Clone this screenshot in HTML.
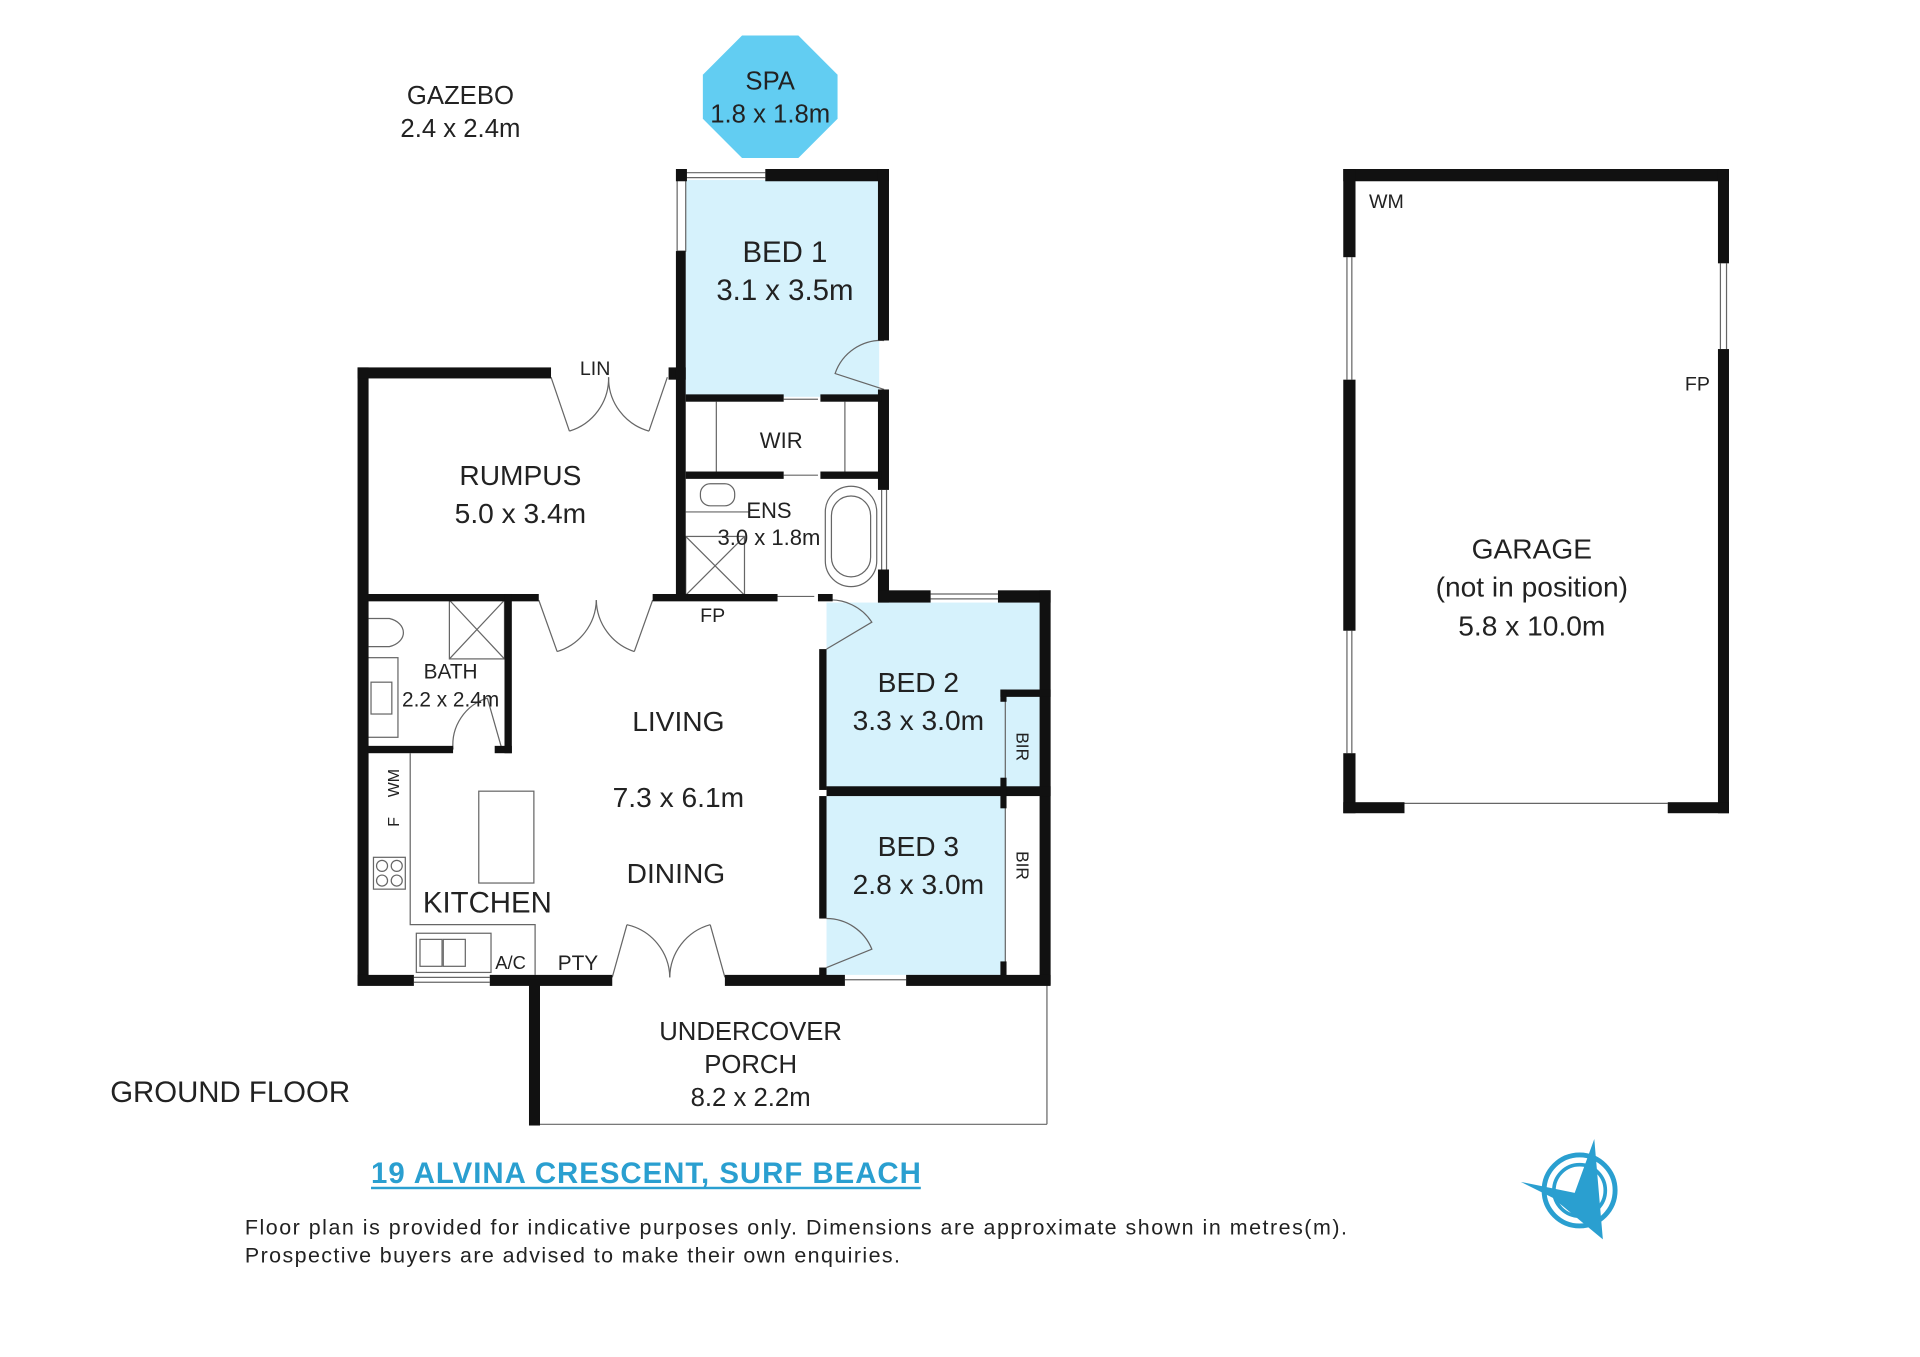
<!DOCTYPE html>
<html><head><meta charset="utf-8"><style>
html,body{margin:0;padding:0;background:#fff;}
svg{display:block;}
text{font-family:"Liberation Sans","DejaVu Sans",sans-serif;fill:#222;}
</style></head><body>
<svg width="1920" height="1357" viewBox="0 0 1568 1108" preserveAspectRatio="none" xmlns="http://www.w3.org/2000/svg">
<rect width="1568" height="1108" fill="#fff"/>
<rect x="560" y="147" width="158" height="177" fill="#d6f2fc"/>
<rect x="675" y="492" width="176" height="152" fill="#d6f2fc"/>
<rect x="675" y="650" width="146" height="146" fill="#d6f2fc"/>
<polygon points="606,29 652,29 684,61 684,97 652,129 606,129 574,97 574,61" fill="#62cdf2"/>
<g stroke="#666" stroke-width="1" fill="none">
<rect x="553" y="140" width="7" height="65"/>
<line x1="560" y1="141" x2="625" y2="141"/><line x1="560" y1="145" x2="625" y2="145"/>
<line x1="720" y1="400" x2="720" y2="465"/><line x1="724" y1="400" x2="724" y2="465"/>
<line x1="760" y1="485" x2="815" y2="485"/><line x1="760" y1="489" x2="815" y2="489"/>
<line x1="338" y1="798" x2="400" y2="798"/><line x1="338" y1="802" x2="400" y2="802"/>
<line x1="294" y1="500" x2="294" y2="530"/><line x1="298" y1="500" x2="298" y2="530"/>
<line x1="441" y1="918" x2="855" y2="918"/><line x1="855" y1="804" x2="855" y2="918"/>
<line x1="690" y1="800" x2="740" y2="800"/>
<line x1="640" y1="326" x2="668" y2="326"/><line x1="640" y1="388" x2="668" y2="388"/>
<line x1="635" y1="487" x2="665" y2="487"/>
<line x1="585" y1="328" x2="585" y2="388"/><line x1="690" y1="328" x2="690" y2="388"/>
<line x1="821" y1="568" x2="821" y2="642"/><line x1="821" y1="650" x2="821" y2="796"/>
<line x1="1100" y1="210" x2="1100" y2="310"/><line x1="1104" y1="210" x2="1104" y2="310"/>
<line x1="1100" y1="515" x2="1100" y2="615"/><line x1="1104" y1="515" x2="1104" y2="615"/>
<line x1="1405" y1="215" x2="1405" y2="285"/><line x1="1410" y1="215" x2="1410" y2="285"/>
<line x1="1147" y1="656" x2="1362" y2="656"/>
<path d="M450,308 L465,352 M465,352 A45,45 0 0 0 497,308"/>
<path d="M545,308 L530,352 M530,352 A45,45 0 0 1 497,308"/>
<path d="M440,490 L455,532 M455,532 A45,45 0 0 0 487,490"/>
<path d="M533,490 L518,532 M518,532 A45,45 0 0 1 487,490"/>
<path d="M500,798 L512,755 M512,755 A45,45 0 0 1 547,798"/>
<path d="M592,798 L580,755 M580,755 A45,45 0 0 0 547,798"/>
<path d="M722,278 A40,40 0 0 0 682,305 L722,318"/>
<path d="M675,490 A40,40 0 0 1 712,508 L675,530"/>
<path d="M675,750 A40,40 0 0 1 712,775 L675,790"/>
<path d="M410,612 L398,570 M370,612 A40,40 0 0 1 398,570"/>
<rect x="367" y="490" width="45" height="48"/><path d="M367,490 L412,538 M412,490 L367,538"/>
<rect x="560" y="438" width="48" height="48"/><path d="M560,438 L608,486 M608,438 L560,486"/>
<rect x="674" y="397" width="42" height="82" rx="21"/><rect x="679" y="405" width="32" height="66" rx="16"/>
<rect x="572" y="395" width="28" height="18" rx="8"/>
<path d="M560,418 L612,418"/>
<path d="M301,505 L318,505 A16,12 0 0 1 318,528 L301,528"/>
<rect x="300" y="537" width="25" height="65"/><rect x="303" y="557" width="17" height="26"/>
<path d="M335,615 L335,755 L437,755 L437,796"/>
<rect x="391" y="646" width="45" height="75"/>
<rect x="305" y="700" width="26" height="26"/>
<circle cx="312" cy="707" r="4.5"/><circle cx="324" cy="707" r="4.5"/><circle cx="312" cy="719" r="4.5"/><circle cx="324" cy="719" r="4.5"/>
<rect x="340" y="762" width="61" height="32"/><rect x="343" y="767" width="18" height="22"/><rect x="362" y="767" width="18" height="22"/>
</g>
<g fill="#111">
<rect x="292" y="300" width="9" height="504"/>
<rect x="292" y="300" width="158" height="9"/>
<rect x="546" y="300" width="14" height="10"/>
<rect x="552" y="205" width="8" height="285"/>
<rect x="552" y="138" width="9" height="10"/>
<rect x="625" y="138" width="101" height="10"/>
<rect x="717" y="138" width="9" height="140"/>
<rect x="717" y="318" width="9" height="82"/>
<rect x="717" y="465" width="9" height="27"/>
<rect x="560" y="322" width="80" height="6"/><rect x="670" y="322" width="50" height="6"/>
<rect x="560" y="385" width="80" height="6"/><rect x="670" y="385" width="50" height="6"/>
<rect x="533" y="485" width="102" height="6"/>
<rect x="668" y="485" width="12" height="6"/>
<rect x="717" y="482" width="43" height="10"/>
<rect x="815" y="482" width="43" height="10"/>
<rect x="849" y="482" width="9" height="322"/>
<rect x="669" y="530" width="6" height="115"/>
<rect x="669" y="650" width="6" height="100"/>
<rect x="669" y="790" width="6" height="10"/>
<rect x="675" y="642" width="183" height="8"/>
<rect x="817" y="563" width="41" height="6"/>
<rect x="817" y="563" width="5" height="10"/><rect x="817" y="635" width="5" height="25"/><rect x="817" y="785" width="5" height="15"/>
<rect x="292" y="796" width="46" height="9"/>
<rect x="400" y="796" width="100" height="9"/>
<rect x="592" y="796" width="98" height="9"/>
<rect x="740" y="796" width="118" height="9"/>
<rect x="432" y="800" width="9" height="119"/>
<rect x="300" y="485" width="140" height="6"/>
<rect x="412" y="485" width="6" height="130"/>
<rect x="300" y="609" width="70" height="6"/>
<rect x="404" y="609" width="14" height="6"/>
<rect x="1097" y="138" width="315" height="10"/>
<rect x="1097" y="138" width="10" height="72"/>
<rect x="1097" y="310" width="10" height="205"/>
<rect x="1097" y="615" width="10" height="49"/>
<rect x="1403" y="138" width="9" height="77"/>
<rect x="1403" y="285" width="9" height="379"/>
<rect x="1097" y="655" width="50" height="9"/>
<rect x="1362" y="655" width="50" height="9"/>
</g>
<g text-anchor="middle" font-size="21">
<text x="376" y="85">GAZEBO</text><text x="376" y="112">2.4 x 2.4m</text>
<text x="629" y="73">SPA</text><text x="629" y="100">1.8 x 1.8m</text>
<text x="641" y="214" font-size="24">BED 1</text><text x="641" y="245" font-size="24">3.1 x 3.5m</text>
<text x="425" y="396" font-size="23">RUMPUS</text><text x="425" y="427" font-size="23">5.0 x 3.4m</text>
<text x="638" y="366" font-size="18">WIR</text>
<text x="628" y="423" font-size="18">ENS</text><text x="628" y="445" font-size="18">3.0 x 1.8m</text>
<text x="486" y="306" font-size="16">LIN</text>
<text x="582" y="508" font-size="16">FP</text>
<text x="368" y="554" font-size="17">BATH</text><text x="368" y="577" font-size="17">2.2 x 2.4m</text>
<text x="554" y="597" font-size="23">LIVING</text>
<text x="554" y="659" font-size="23">7.3 x 6.1m</text>
<text x="552" y="721" font-size="23">DINING</text>
<text x="398" y="745" font-size="24">KITCHEN</text>
<text x="417" y="791" font-size="15">A/C</text>
<text x="472" y="792" font-size="17">PTY</text>
<text x="750" y="565" font-size="23">BED 2</text><text x="750" y="596" font-size="23">3.3 x 3.0m</text>
<text x="750" y="699" font-size="23">BED 3</text><text x="750" y="730" font-size="23">2.8 x 3.0m</text>
<text x="613" y="849" font-size="21">UNDERCOVER</text><text x="613" y="876" font-size="21">PORCH</text><text x="613" y="903" font-size="21">8.2 x 2.2m</text>
<text x="1251" y="456" font-size="23">GARAGE</text><text x="1251" y="487" font-size="23">(not in position)</text><text x="1251" y="519" font-size="23">5.8 x 10.0m</text>
</g>
<text x="1118" y="170" font-size="16">WM</text>
<text x="1376" y="319" font-size="16">FP</text>
<text transform="translate(830,598) rotate(90)" font-size="14">BIR</text>
<text transform="translate(830,695) rotate(90)" font-size="14">BIR</text>
<text transform="translate(326,651) rotate(-90)" font-size="13">WM</text>
<text transform="translate(326,675) rotate(-90)" font-size="13">F</text>
<text x="90" y="900" font-size="24">GROUND FLOOR</text>
<text x="303" y="966" font-size="24" font-weight="bold" style="fill:#2a9fd0" textLength="449">19 ALVINA CRESCENT, SURF BEACH</text>
<rect x="303" y="969" width="449" height="2" fill="#2a9fd0"/>
<text x="200" y="1008" font-size="17.5" textLength="900">Floor plan is provided for indicative purposes only.  Dimensions are approximate shown in metres(m).</text>
<text x="200" y="1031" font-size="17.5" textLength="535">Prospective buyers are advised to make their own enquiries.</text>
<g fill="none" stroke="#2a9fd0">
<circle cx="1290" cy="972" r="29" stroke-width="4"/>
<circle cx="1290" cy="972" r="21" stroke-width="3"/>
</g>
<polygon points="1242,965 1286,974 1302,930 1309,1012 1268,978" fill="#2a9fd0"/>
</svg>
</body></html>
